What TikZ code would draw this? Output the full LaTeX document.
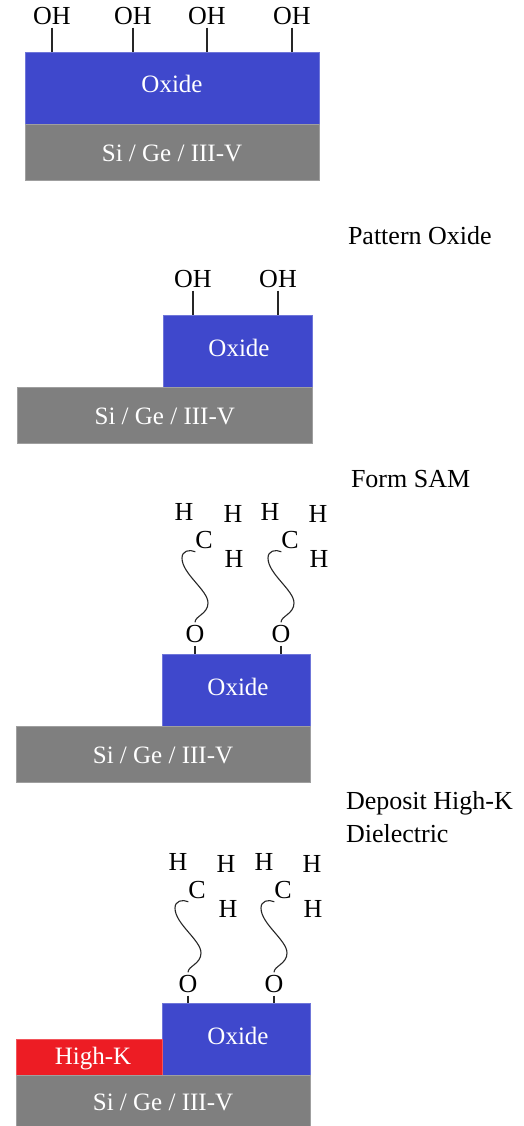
\documentclass[tikz,border=0pt]{standalone}
\usepackage{fontspec}
\setmainfont{Liberation Serif}
\tikzset{
  x=1pt,y=-1pt,
  every node/.style={inner sep=0pt,outer sep=0pt},
  layer/.style={anchor=north west,draw=#1!75!white,line width=0.5pt,fill=#1,text=white,font=\fontsize{25}{26}\selectfont,align=center},
  sublayer/.style={layer=subgray,text height=19pt,text depth=0pt},
  oxlayer/.style={layer=oxblue,text height=15pt,text depth=5pt},
  hklayer/.style={layer=hkred,text height=15pt,text depth=0pt},
  chem/.style={font=\fontsize{26}{27}\selectfont,text=black,outer ysep=3pt},
  note/.style={font=\fontsize{26}{28}\selectfont,text=black,anchor=west},
  bond/.style={line width=1.2pt,draw=black!85},
  chain/.style={line width=1.1pt,draw=black!85},
}
\definecolor{oxblue}{HTML}{3F48CC}
\definecolor{subgray}{HTML}{7F7F7F}
\definecolor{hkred}{HTML}{ED1C24}
% prefix, O x, O y, oxide node
\newcommand{\sammol}[4]{%
  \begin{scope}[shift={(#2,#3)}]
    \node[chem] (#1o) at (0,0) {O};
    \node[chem] (#1c) at (9,-94) {C};
    \draw[bond] (#1o.south) -- (#1o.south |- #4.north);
    \draw[chain] (#1o.north) .. controls (0,-18) and (13,-20) .. (13,-31)
       .. controls (13,-44) and (-13,-60) .. (-13,-76)
       .. controls (-13,-83) and (-6,-85) .. (#1c.south west);
  \end{scope}}
\begin{document}
\begin{tikzpicture}
\useasboundingbox (0,0) rectangle (523,1126);
% Panel 1
\node[oxlayer,minimum width=294pt,minimum height=72pt] (ox1) at (25,52) {Oxide};
\node[sublayer,minimum width=294pt,minimum height=56pt] (si1) at (25,124) {Si / Ge / III-V};
\foreach \n/\x in {a/52,b/133,c/207,d/292}{
  \node[chem] (oh1\n) at (\x,16) {OH};
  \draw[bond] (oh1\n.south) -- (oh1\n.south |- ox1.north);
}
% Panel 2
\node[note] (t2) at (348,236) {Pattern Oxide};
\node[oxlayer,minimum width=149pt,minimum height=72pt] (ox2) at (163,315) {\hspace*{3pt}Oxide};
\node[sublayer,minimum width=294.5pt,minimum height=56pt] (si2) at (17.5,387) {Si / Ge / III-V};
\foreach \n/\x in {a/193,b/278}{
  \node[chem] (oh2\n) at (\x,279) {OH};
  \draw[bond] (oh2\n.south) -- (oh2\n.south |- ox2.north);
}
% Panel 3
\node[note] (t3) at (351,479) {Form SAM};
\node[oxlayer,minimum width=148pt,minimum height=72pt] (ox3) at (162,654) {\hspace*{4pt}Oxide};
\node[sublayer,minimum width=294pt,minimum height=56pt] (si3) at (16,726) {Si / Ge / III-V};
\sammol{m3a}{195}{634}{ox3}
\sammol{m3b}{281}{634}{ox3}
\foreach \n/\x/\y in {a/184/512,b/233/514,c/270/512,d/318/514,e/234/559,f/319/559}{
  \node[chem] (h3\n) at (\x,\y) {H};
}
% Panel 4
\node[note] (t4a) at (346,803) {Deposit High-K};
\node[note] (t4b) at (346,834) {Dielectric};
\node[oxlayer,minimum width=148pt,minimum height=72pt] (ox4) at (162,1003) {\hspace*{4pt}Oxide};
\node[hklayer,minimum width=146pt,minimum height=36pt] (hk4) at (16,1039) {\hspace*{8pt}High-K};
\node[sublayer,minimum width=294pt,minimum height=51pt] (si4) at (16,1075) {Si / Ge / III-V};
\sammol{m4a}{188}{984}{ox4}
\sammol{m4b}{274}{984}{ox4}
\foreach \n/\x/\y in {a/178/862,b/226/864,c/264/862,d/312/864,e/228/909,f/313/909}{
  \node[chem] (h4\n) at (\x,\y) {H};
}
\end{tikzpicture}
\end{document}
